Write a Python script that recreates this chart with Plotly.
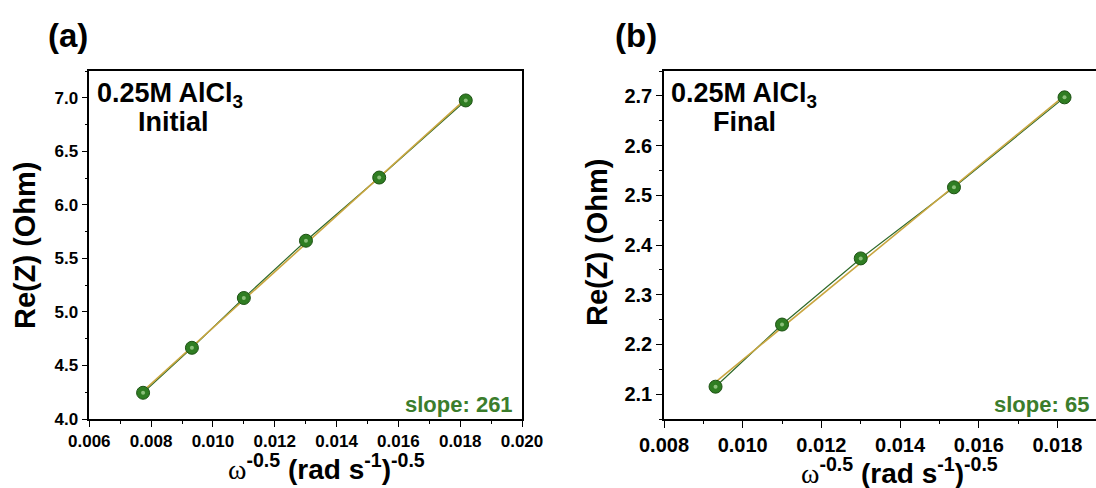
import numpy as np
import plotly.graph_objects as go

# ---- data ----
x_a = [0.00774, 0.00932, 0.01100, 0.01301, 0.01538, 0.01818]
y_a = [4.245, 4.665, 5.130, 5.665, 6.255, 6.975]
x_b = [0.00931, 0.01100, 0.01300, 0.01537, 0.01818]
y_b = [2.115, 2.240, 2.373, 2.516, 2.697]
xticks_a = [0.006, 0.008, 0.010, 0.012, 0.014, 0.016, 0.018, 0.020]
yticks_a = [4.0, 4.5, 5.0, 5.5, 6.0, 6.5, 7.0]
xticks_b = [0.008, 0.010, 0.012, 0.014, 0.016, 0.018]
yticks_b = [2.1, 2.2, 2.3, 2.4, 2.5, 2.6, 2.7]
slope_a_label = "slope: 261"
slope_b_label = "slope: 65"

W, H = 1096, 488
FONT = "Liberation Sans, Arial, sans-serif"
GREEN_LINE = "#2f6a2a"
FIT = "#c9a640"
MARK = "#2f7d22"
MARK_EDGE = "#1d5214"
TEXT_GREEN = "#3b7d2c"


def px(x):
    return x / W


def py(y):
    return 1 - y / H


fig = go.Figure()


def add_panel(xs, ys, xa, ya):
    xs = np.asarray(xs)
    ys = np.asarray(ys)
    k, b = np.polyfit(xs, ys, 1)
    xf = np.array([xs.min(), xs.max()])
    fig.add_trace(go.Scatter(x=xs, y=ys, mode="lines",
                             line=dict(color=GREEN_LINE, width=1.2),
                             xaxis=xa, yaxis=ya, showlegend=False, hoverinfo="skip"))
    fig.add_trace(go.Scatter(x=xf, y=k * xf + b, mode="lines",
                             line=dict(color=FIT, width=1.6),
                             xaxis=xa, yaxis=ya, showlegend=False, hoverinfo="skip"))
    fig.add_trace(go.Scatter(x=xs, y=ys, mode="markers",
                             marker=dict(size=13, color=MARK,
                                         line=dict(color=MARK_EDGE, width=1)),
                             xaxis=xa, yaxis=ya, showlegend=False))
    fig.add_trace(go.Scatter(x=xs, y=ys, mode="markers",
                             marker=dict(size=4, color="rgba(200,235,180,0.6)"),
                             xaxis=xa, yaxis=ya, showlegend=False, hoverinfo="skip"))


add_panel(x_a, y_a, "x", "y")
add_panel(x_b, y_b, "x2", "y2")


def ax(size, **kw):
    d = dict(showgrid=False, zeroline=False, showline=True, linecolor="black",
             linewidth=1.5, ticks="outside", ticklen=6, tickwidth=1.2,
             tickcolor="black", automargin=False,
             tickfont=dict(family=FONT, size=size, color="black", weight="bold"))
    d.update(kw)
    return d


fig.update_layout(
    width=W, height=H,
    margin=dict(l=0, r=0, t=0, b=0, autoexpand=False),
    paper_bgcolor="white", plot_bgcolor="white",
    xaxis=ax(17, domain=[px(89.3), px(522)], range=[0.006, 0.020],
             tickvals=xticks_a, tickformat=".3f", mirror=True, anchor="y",
             minor=dict(dtick=0.001, ticks="outside", ticklen=3, tickcolor="black")),
    yaxis=ax(17, domain=[py(419), py(71)], range=[4.0, 7.25],
             tickvals=yticks_a, tickformat=".1f", mirror=True, anchor="x",
             minor=dict(dtick=0.25, ticks="outside", ticklen=3, tickcolor="black")),
    xaxis2=ax(20, domain=[px(664), 1.0], range=[0.008, 0.01898], ticklen=7,
              tickvals=xticks_b, tickformat=".3f", mirror=True, anchor="y2",
              minor=dict(dtick=0.001, ticks="outside", ticklen=3, tickcolor="black")),
    yaxis2=ax(20, domain=[py(419), py(71)], range=[2.05, 2.75],
              tickvals=yticks_b, tickformat=".1f", mirror=False, anchor="x2",
              minor=dict(dtick=0.05, ticks="outside", ticklen=3, tickcolor="black")),
)

bold = dict(family=FONT, color="black", weight="bold")
xtitle = ("<span style=\"font-family:'Liberation Serif', 'Times New Roman', serif; font-weight:normal\">ω</span>"
          "<sup>-0.5</sup> (rad s<sup>-1</sup>)<sup>-0.5</sup>")
alcl = "0.25M AlCl<span style=\"font-size:24px\"><sub>3</sub></span>"

annots = [
    # panel labels
    dict(x=px(68), y=py(35), text="(a)", font=dict(**bold, size=33)),
    dict(x=px(636), y=py(35), text="(b)", font=dict(**bold, size=33)),
    # axis titles
    dict(x=px(326), y=py(467), text=xtitle, font=dict(**bold, size=28)),
    dict(x=px(899), y=py(471), text=xtitle, font=dict(**bold, size=28)),
    dict(x=px(25), y=py(245), text="Re(Z) (Ohm)", textangle=-90, font=dict(**bold, size=29)),
    dict(x=px(597), y=py(242), text="Re(Z) (Ohm)", textangle=-90, font=dict(**bold, size=29)),
    # in-plot labels
    dict(x=px(95), y=py(95), text="0.25M AlCl<sub>3</sub>", xanchor="left", font=dict(**bold, size=27)),
    dict(x=px(173), y=py(122), text="Initial", font=dict(**bold, size=27)),
    dict(x=px(669), y=py(95), text="0.25M AlCl<sub>3</sub>", xanchor="left", font=dict(**bold, size=27)),
    dict(x=px(744), y=py(122), text="Final", font=dict(**bold, size=27)),
    dict(x=px(515), y=py(404), text=slope_a_label, xanchor="right",
         font=dict(family=FONT, color=TEXT_GREEN, weight="bold", size=22)),
    dict(x=px(1091), y=py(404), text=slope_b_label, xanchor="right",
         font=dict(family=FONT, color=TEXT_GREEN, weight="bold", size=22)),
]
for a in annots:
    a.setdefault("xanchor", "center")
    fig.add_annotation(xref="paper", yref="paper", showarrow=False, yanchor="middle", **a)

fig.write_html("out.html")
